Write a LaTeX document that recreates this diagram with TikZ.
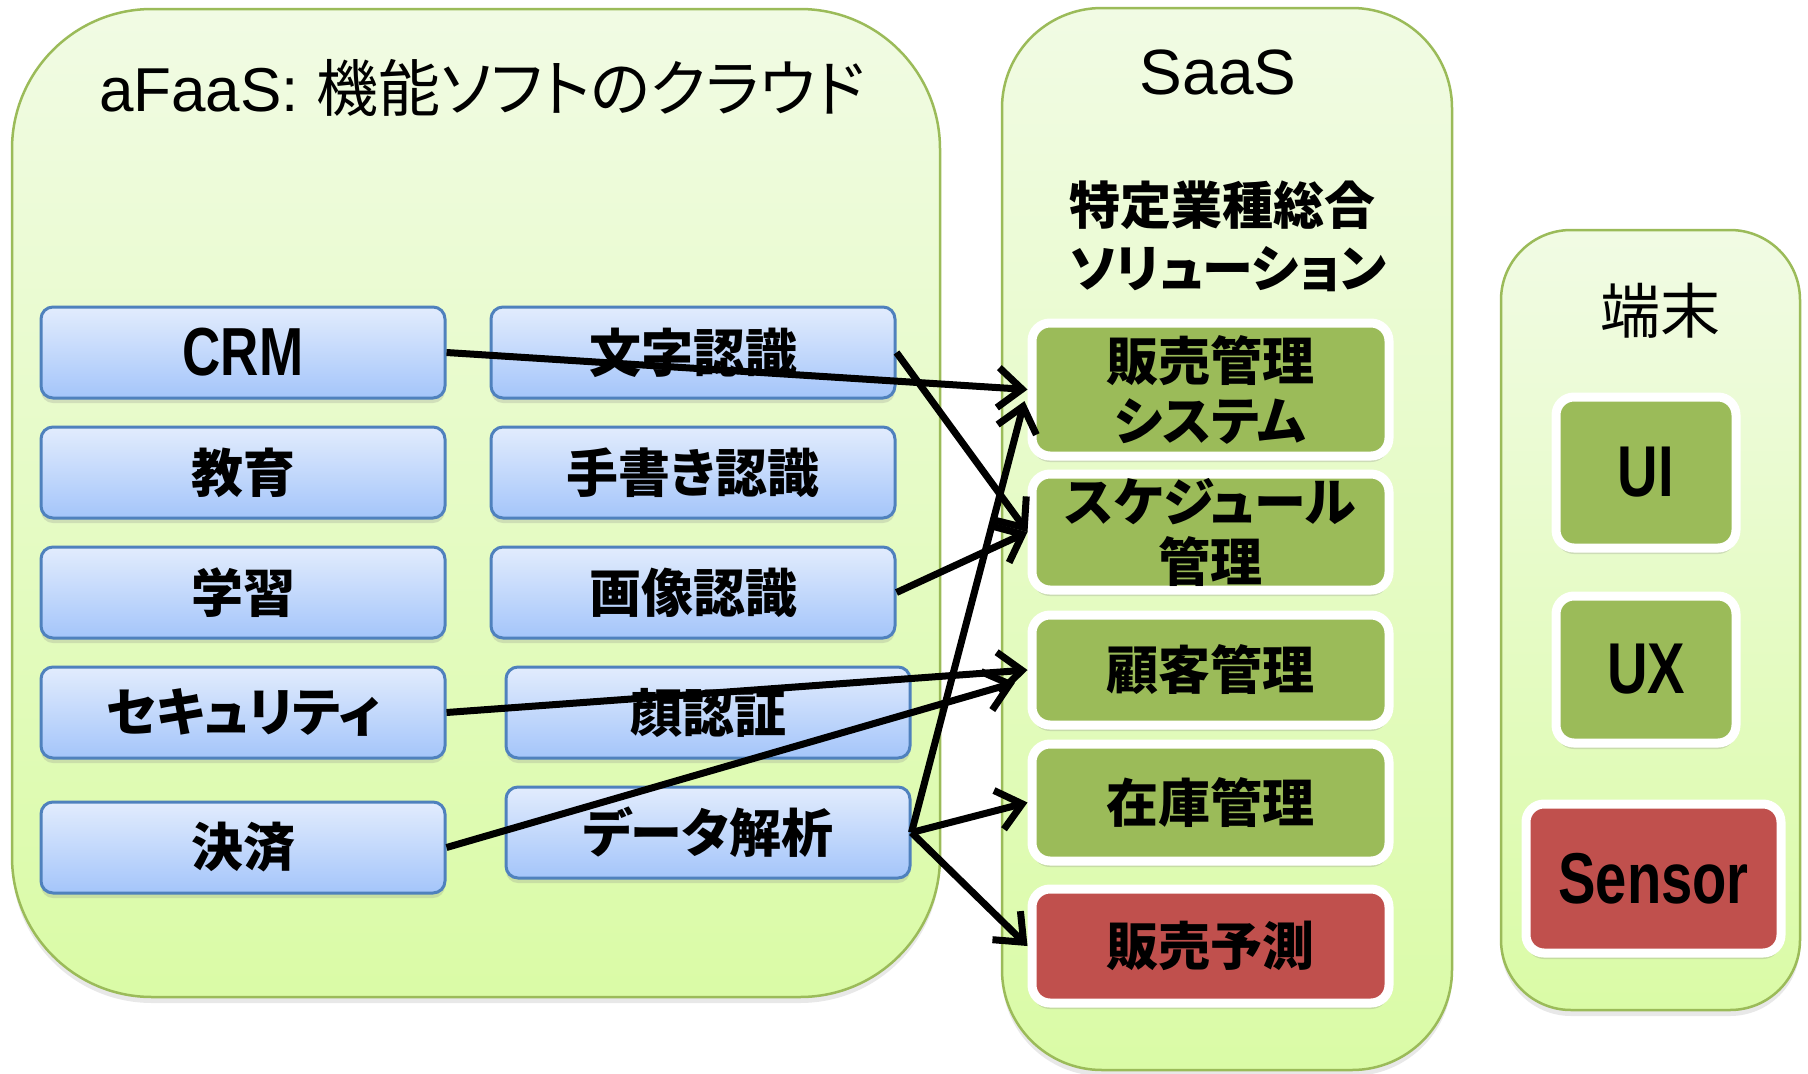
\documentclass[tikz,border=0pt]{standalone}
\usepackage{fontspec}
\setmainfont{Liberation Sans}
\newfontfamily\jpfont{Noto Sans CJK JP}[RawFeature=+palt]
\newfontfamily\narrowfont{Liberation Sans}[FakeStretch=0.78]
\usetikzlibrary{arrows.meta,positioning,shadows}
\definecolor{frameGreen}{RGB}{155,187,89}
\definecolor{paleTop}{RGB}{241,251,228}
\definecolor{paleBottom}{RGB}{218,251,166}
\definecolor{blueTop}{RGB}{226,236,253}
\definecolor{blueBottom}{RGB}{164,197,250}
\definecolor{blueEdge}{RGB}{79,129,189}
\definecolor{appGreen}{RGB}{155,187,89}
\definecolor{appRed}{RGB}{192,80,77}
\tikzset{
  tierbox/.style={draw=frameGreen,line width=2.5pt,top color=paleTop,bottom color=paleBottom,
    drop shadow={shadow xshift=0pt,shadow yshift=-6pt,opacity=0.18}},
  funcbox/.style={draw=blueEdge,line width=3pt,rounded corners=12pt,top color=blueTop,
    bottom color=blueBottom,minimum width=404pt,minimum height=91pt,inner sep=0pt,
    font=\jpfont\bfseries\fontsize{52}{60}\selectfont,
    drop shadow={shadow xshift=0pt,shadow yshift=-5pt,opacity=0.22}},
  appbox/.style={draw=white,line width=9pt,rounded corners=18pt,fill=appGreen,inner sep=0pt,
    align=center,font=\jpfont\bfseries\fontsize{52}{60}\selectfont,
    drop shadow={shadow xshift=0pt,shadow yshift=-6pt,opacity=0.25}},
  alertbox/.style={appbox,fill=appRed},
  flow/.style={draw=black,line width=7pt,-{Straight Barb[length=24pt,width=40pt,line width=7pt]}}
}
\begin{document}
\begin{tikzpicture}[x=1pt,y=-1pt]
  \useasboundingbox (0,0) rectangle (1808,1074);

  % three layers
  \node[tierbox,rounded corners=140pt,minimum width=928pt,minimum height=988pt] (afaas) at (476,503) {};
  \node[tierbox,rounded corners=100pt,minimum width=450pt,minimum height=1062pt] (saas) at (1227,539) {};
  \node[tierbox,rounded corners=70pt,minimum width=299pt,minimum height=780pt] (term) at (1650.5,620) {};

  \node[font=\fontsize{62}{70}\selectfont] (afaasTitle) at (482,88) {aFaaS: {\jpfont 機能ソフトのクラウド}};
  \node[font=\fontsize{64}{70}\selectfont] (saasTitle) at (1218,72) {SaaS};
  \node[font=\jpfont\bfseries\fontsize{51}{63}\selectfont,align=left,anchor=west] (saasSub) at (1066,236) {特定業種総合\\ソリューション};
  \node[font=\jpfont\fontsize{60}{70}\selectfont] (termTitle) at (1660,311) {端末};

  % function software
  \foreach \name/\x/\y/\label in {crm/243/352.5/{\narrowfont\fontsize{68}{70}\selectfont CRM},
      edu/243/472.5/教育,learn/243/592.5/学習,sec/243/712.5/セキュリティ,pay/243/847.5/決済,
      ocr/693/352.5/文字認識,hand/693/472.5/手書き認識,img/693/592.5/画像認識,
      face/708/712.5/顔認証,data/708/832.5/データ解析}
    \node[funcbox] (\name) at (\x,\y) {\label};

  % solutions
  \foreach \name/\y/\h/\kind/\label in {sales/389.5/133/appbox/{販売管理\\システム},
      sched/532/116/appbox/{スケジュール\\管理},cust/670/110/appbox/顧客管理,
      stock/802.5/117/appbox/在庫管理,fcst/946/114/alertbox/販売予測}
    \node[\kind,minimum width=357pt,minimum height=\h pt] (\name) at (1210.5,\y) {\label};

  % devices
  \node[appbox,minimum width=180pt,minimum height=151pt,font=\narrowfont\bfseries\fontsize{72}{72}\selectfont] (ui) at (1646,472.5) {UI};
  \node[appbox,minimum width=180pt,minimum height=147pt,font=\narrowfont\bfseries\fontsize{72}{72}\selectfont] (ux) at (1646,669.5) {UX};
  \node[alertbox,minimum width=255pt,minimum height=149pt,font=\narrowfont\bfseries\fontsize{72}{72}\selectfont] (sensor) at (1653.5,878.5) {Sensor};

  \draw[flow] (crm.east) -- (sales.west);
  \draw[flow] (ocr.east) -- (sched.west);
  \draw[flow] (img.east) -- (sched.west);
  \draw[flow] (sec.east) -- (cust.west);
  \draw[flow,shorten >=13pt] (pay.east) -- ([yshift=-9pt]cust.west);
  \draw[flow,shorten >=12pt] (data.east) -- (sales.west);
  \draw[flow] (data.east) -- (stock.west);
  \draw[flow] (data.east) -- (fcst.west);
\end{tikzpicture}
\end{document}
